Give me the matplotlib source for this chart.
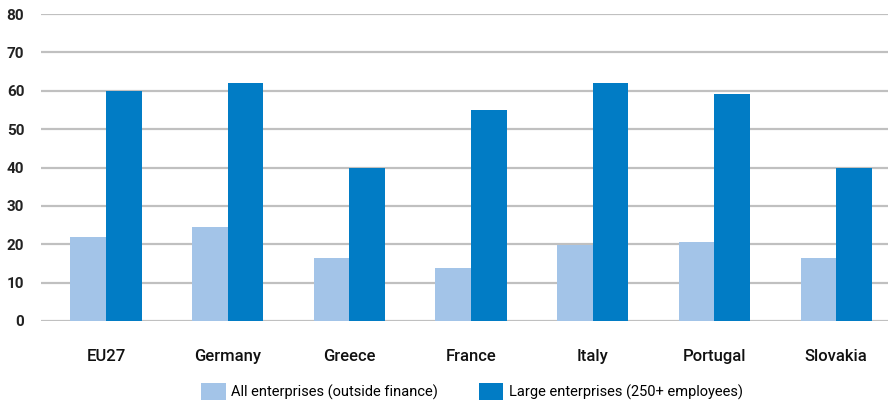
import numpy as np
from matplotlib import pyplot as plt

countries = ["EU27", "Germany", "Greece", "France", "Italy", "Portugal", "Slovakia"]
all_enterprises = [22, 24.6, 16.5, 13.9, 19.8, 20.7, 16.5]
large_enterprises = [60, 61.9, 40, 55, 61.9, 59.2, 40]
series_names = ["All enterprises (outside finance)", "Large enterprises (250+ employees)"]
y_ticks = [0, 10, 20, 30, 40, 50, 60, 70, 80]

light = "#A3C4E8"
dark = "#017CC5"

plt.rcParams['font.family'] = ['Roboto', 'DejaVu Sans']

fig = plt.figure(figsize=(8.91, 4.05), dpi=100)
ax = fig.add_axes([41 / 891, 1 - 321 / 405, (888 - 41) / 891, 307 / 405])

x = np.arange(len(countries))
w = 0.292
ax.bar(x - w / 2, all_enterprises, width=w, color=light, label=series_names[0], zorder=3)
ax.bar(x + w / 2, large_enterprises, width=w, color=dark, label=series_names[1], zorder=3)

ax.set_xlim(-0.534, 6.427)
ax.set_ylim(0, 80)
ax.set_yticks(y_ticks)
ax.set_xticks(x)
ax.set_xticklabels(countries, fontsize=12, fontweight="medium", color="#111111")
for lab in ax.get_yticklabels():
    lab.set_fontsize(11)
    lab.set_fontweight("bold")
    lab.set_color("#222222")

ax.yaxis.grid(True, color="#c0c0c0", linewidth=1.6, zorder=0)
ax.tick_params(axis="both", length=0)
ax.tick_params(axis="y", pad=12)
ax.tick_params(axis="x", pad=20)
for s in ax.spines.values():
    s.set_visible(False)

fig.legend(loc="lower center", bbox_to_anchor=(0.53, -0.02), ncol=2, frameon=False,
           fontsize=10.5, handlelength=1.65, handleheight=1.4, columnspacing=2.8,
           handletextpad=0.4)

fig.savefig("out.png", dpi=100)
